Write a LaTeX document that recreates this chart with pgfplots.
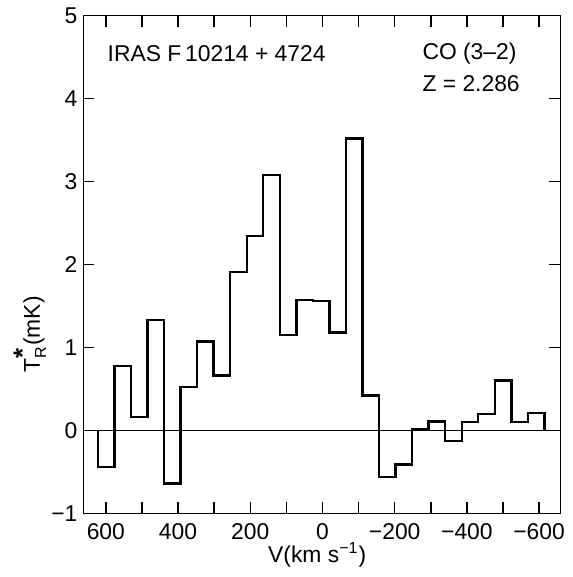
\documentclass[border=0pt]{standalone}
\usepackage{pgfplots}
\pgfplotsset{compat=1.18}
\usepackage{amsmath}
\usepackage{fontspec}
\setmainfont{Liberation Sans}

\begin{document}
\fontsize{11.5}{13}\selectfont
\begin{tikzpicture}
\begin{axis}[
    width=240pt, height=250.5pt, scale only axis,
    x dir=reverse,
    xmin=-659, xmax=662,
    ymin=-1, ymax=5,
    xtick={-600,-400,...,600},
    xticklabels={−600,−400,−200,0,200,400,600},
    minor xtick={-500,-300,...,500},
    ytick={-1,0,...,5},
    yticklabels={−1,0,1,2,3,4,5},
    tick align=inside,
    major tick length=5.5pt, minor tick length=5.5pt,
    every tick/.style={black, line width=0.7pt},
    axis line style={line width=0.9pt},
    xticklabel style={yshift=-1pt},
    yticklabel style={xshift=1pt},
    xlabel={V(km s$^{\text{−1}}$)},
    ylabel={T$_{\text{R}}^{\text{\fontsize{13}{13}\selectfont\bfseries *}}$(mK)},
    xlabel style={at={(axis description cs:0.49,0)}, anchor=center, yshift=-21pt},
    ylabel style={at={(axis description cs:0,0.36)}, anchor=center, yshift=27pt},
    clip=false,
]
\addplot[black, line width=0.4pt] coordinates {(662,0) (-659,0)};
\addplot[black, line width=1.2pt, const plot mark left] coordinates {
(622,0)
(622,-0.44)
(576.2,0.78)
(530.4,0.16)
(484.6,1.33)
(438.8,-0.64)
(393.0,0.52)
(347.2,1.07)
(301.4,0.66)
(255.6,1.91)
(209.8,2.34)
(164.0,3.08)
(118.2,1.15)
(72.4,1.57)
(26.6,1.56)
(-19.2,1.18)
(-65.0,3.52)
(-110.8,0.42)
(-156.6,-0.56)
(-202.4,-0.41)
(-248.2,0.01)
(-294.0,0.11)
(-339.8,-0.13)
(-385.6,0.10)
(-431.4,0.20)
(-477.2,0.60)
(-523.0,0.10)
(-568.8,0.21)
(-614.6,0)
};
\node[anchor=west, inner sep=0pt] at (rel axis cs:0.05,0.924) {IRAS F\,10214 + 4724};
\node[anchor=west, inner sep=0pt] at (rel axis cs:0.71,0.924) {CO (3–2)};
\node[anchor=west, inner sep=0pt] at (rel axis cs:0.71,0.864) {Z = 2.286};
\end{axis}
\path (current axis.south west) ++(-42pt,-32pt) rectangle ++(283.5pt,288.5pt);
\end{tikzpicture}
\end{document}
